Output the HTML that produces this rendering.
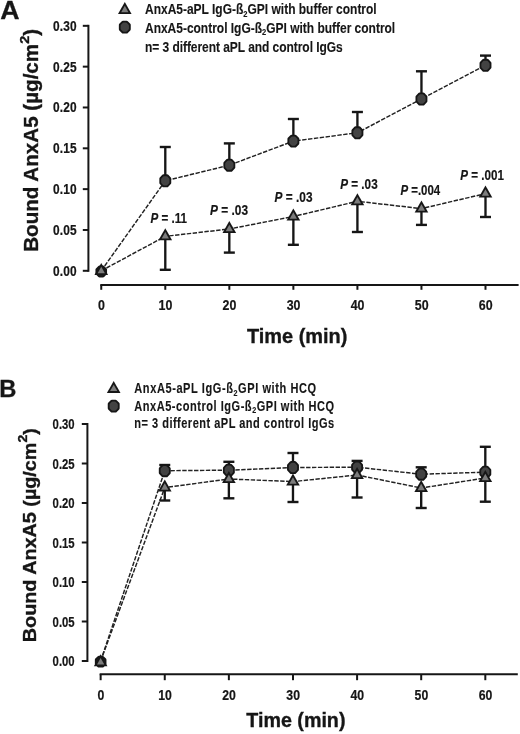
<!DOCTYPE html>
<html><head><meta charset="utf-8"><title>Figure</title>
<style>
html,body{margin:0;padding:0;background:#fff;}
body{width:520px;height:734px;overflow:hidden;font-family:"Liberation Sans",sans-serif;}
svg{display:block;will-change:transform;}
</style></head><body>
<svg width="520" height="734" viewBox="0 0 520 734" font-family="'Liberation Sans', sans-serif" fill="#161616">
<rect width="520" height="734" fill="#fff"/>
<line x1="88.4" y1="24.82" x2="88.4" y2="271.80" stroke="#161616" stroke-width="2"/>
<line x1="82.80" y1="270.80" x2="88.40" y2="270.80" stroke="#161616" stroke-width="2"/>
<text transform="translate(53.0,275.7) scale(0.8600,1)" font-size="13.8" font-weight="bold" letter-spacing="0.194" stroke="#161616" stroke-width="0.22"><tspan>0.00</tspan></text>
<line x1="82.80" y1="229.97" x2="88.40" y2="229.97" stroke="#161616" stroke-width="2"/>
<text transform="translate(53.0,234.87) scale(0.8600,1)" font-size="13.8" font-weight="bold" letter-spacing="0.194" stroke="#161616" stroke-width="0.22"><tspan>0.05</tspan></text>
<line x1="82.80" y1="189.14" x2="88.40" y2="189.14" stroke="#161616" stroke-width="2"/>
<text transform="translate(53.0,194.04) scale(0.8600,1)" font-size="13.8" font-weight="bold" letter-spacing="0.194" stroke="#161616" stroke-width="0.22"><tspan>0.10</tspan></text>
<line x1="82.80" y1="148.31" x2="88.40" y2="148.31" stroke="#161616" stroke-width="2"/>
<text transform="translate(53.0,153.21) scale(0.8600,1)" font-size="13.8" font-weight="bold" letter-spacing="0.194" stroke="#161616" stroke-width="0.22"><tspan>0.15</tspan></text>
<line x1="82.80" y1="107.48" x2="88.40" y2="107.48" stroke="#161616" stroke-width="2"/>
<text transform="translate(53.0,112.38) scale(0.8600,1)" font-size="13.8" font-weight="bold" letter-spacing="0.194" stroke="#161616" stroke-width="0.22"><tspan>0.20</tspan></text>
<line x1="82.80" y1="66.65" x2="88.40" y2="66.65" stroke="#161616" stroke-width="2"/>
<text transform="translate(53.0,71.55) scale(0.8600,1)" font-size="13.8" font-weight="bold" letter-spacing="0.194" stroke="#161616" stroke-width="0.22"><tspan>0.25</tspan></text>
<line x1="82.80" y1="25.82" x2="88.40" y2="25.82" stroke="#161616" stroke-width="2"/>
<text transform="translate(53.0,30.72) scale(0.8600,1)" font-size="13.8" font-weight="bold" letter-spacing="0.194" stroke="#161616" stroke-width="0.22"><tspan>0.30</tspan></text>
<line x1="100.25" y1="285.1" x2="518.6" y2="285.1" stroke="#161616" stroke-width="2"/>
<line x1="101.25" y1="285.1" x2="101.25" y2="289.80" stroke="#161616" stroke-width="2"/>
<text transform="translate(97.99,310.4) scale(0.8400,1)" font-size="14.8" font-weight="bold" stroke="#161616" stroke-width="0.22"><tspan>0</tspan></text>
<line x1="165.29" y1="285.1" x2="165.29" y2="289.80" stroke="#161616" stroke-width="2"/>
<text transform="translate(158.58,310.4) scale(0.8400,1)" font-size="14.8" font-weight="bold" stroke="#161616" stroke-width="0.22"><tspan>10</tspan></text>
<line x1="229.33" y1="285.1" x2="229.33" y2="289.80" stroke="#161616" stroke-width="2"/>
<text transform="translate(222.62,310.4) scale(0.8400,1)" font-size="14.8" font-weight="bold" stroke="#161616" stroke-width="0.22"><tspan>20</tspan></text>
<line x1="293.37" y1="285.1" x2="293.37" y2="289.80" stroke="#161616" stroke-width="2"/>
<text transform="translate(286.66,310.4) scale(0.8400,1)" font-size="14.8" font-weight="bold" stroke="#161616" stroke-width="0.22"><tspan>30</tspan></text>
<line x1="357.41" y1="285.1" x2="357.41" y2="289.80" stroke="#161616" stroke-width="2"/>
<text transform="translate(350.7,310.4) scale(0.8400,1)" font-size="14.8" font-weight="bold" stroke="#161616" stroke-width="0.22"><tspan>40</tspan></text>
<line x1="421.45" y1="285.1" x2="421.45" y2="289.80" stroke="#161616" stroke-width="2"/>
<text transform="translate(414.74,310.4) scale(0.8400,1)" font-size="14.8" font-weight="bold" stroke="#161616" stroke-width="0.22"><tspan>50</tspan></text>
<line x1="485.49" y1="285.1" x2="485.49" y2="289.80" stroke="#161616" stroke-width="2"/>
<text transform="translate(478.78,310.4) scale(0.8400,1)" font-size="14.8" font-weight="bold" stroke="#161616" stroke-width="0.22"><tspan>60</tspan></text>
<line x1="87.4" y1="423.00" x2="87.4" y2="662.00" stroke="#161616" stroke-width="2"/>
<line x1="81.80" y1="661.00" x2="87.40" y2="661.00" stroke="#161616" stroke-width="2"/>
<text transform="translate(52.6,666.2) scale(0.7800,1)" font-size="14.5" font-weight="bold" letter-spacing="-0.005" stroke="#161616" stroke-width="0.22"><tspan>0.00</tspan></text>
<line x1="81.80" y1="621.50" x2="87.40" y2="621.50" stroke="#161616" stroke-width="2"/>
<text transform="translate(52.6,626.7) scale(0.7800,1)" font-size="14.5" font-weight="bold" letter-spacing="-0.005" stroke="#161616" stroke-width="0.22"><tspan>0.05</tspan></text>
<line x1="81.80" y1="582.00" x2="87.40" y2="582.00" stroke="#161616" stroke-width="2"/>
<text transform="translate(52.6,587.2) scale(0.7800,1)" font-size="14.5" font-weight="bold" letter-spacing="-0.005" stroke="#161616" stroke-width="0.22"><tspan>0.10</tspan></text>
<line x1="81.80" y1="542.50" x2="87.40" y2="542.50" stroke="#161616" stroke-width="2"/>
<text transform="translate(52.6,547.7) scale(0.7800,1)" font-size="14.5" font-weight="bold" letter-spacing="-0.005" stroke="#161616" stroke-width="0.22"><tspan>0.15</tspan></text>
<line x1="81.80" y1="503.00" x2="87.40" y2="503.00" stroke="#161616" stroke-width="2"/>
<text transform="translate(52.6,508.2) scale(0.7800,1)" font-size="14.5" font-weight="bold" letter-spacing="-0.005" stroke="#161616" stroke-width="0.22"><tspan>0.20</tspan></text>
<line x1="81.80" y1="463.50" x2="87.40" y2="463.50" stroke="#161616" stroke-width="2"/>
<text transform="translate(52.6,468.7) scale(0.7800,1)" font-size="14.5" font-weight="bold" letter-spacing="-0.005" stroke="#161616" stroke-width="0.22"><tspan>0.25</tspan></text>
<line x1="81.80" y1="424.00" x2="87.40" y2="424.00" stroke="#161616" stroke-width="2"/>
<text transform="translate(52.6,429.2) scale(0.7800,1)" font-size="14.5" font-weight="bold" letter-spacing="-0.005" stroke="#161616" stroke-width="0.22"><tspan>0.30</tspan></text>
<line x1="99.65" y1="674.2" x2="517.8" y2="674.2" stroke="#161616" stroke-width="2"/>
<line x1="100.65" y1="674.2" x2="100.65" y2="680.20" stroke="#161616" stroke-width="2"/>
<text transform="translate(97.44,699.9) scale(0.8400,1)" font-size="14.6" font-weight="bold" stroke="#161616" stroke-width="0.22"><tspan>0</tspan></text>
<line x1="164.76" y1="674.2" x2="164.76" y2="680.20" stroke="#161616" stroke-width="2"/>
<text transform="translate(158.14,699.9) scale(0.8400,1)" font-size="14.6" font-weight="bold" stroke="#161616" stroke-width="0.22"><tspan>10</tspan></text>
<line x1="228.87" y1="674.2" x2="228.87" y2="680.20" stroke="#161616" stroke-width="2"/>
<text transform="translate(222.25,699.9) scale(0.8400,1)" font-size="14.6" font-weight="bold" stroke="#161616" stroke-width="0.22"><tspan>20</tspan></text>
<line x1="292.98" y1="674.2" x2="292.98" y2="680.20" stroke="#161616" stroke-width="2"/>
<text transform="translate(286.36,699.9) scale(0.8400,1)" font-size="14.6" font-weight="bold" stroke="#161616" stroke-width="0.22"><tspan>30</tspan></text>
<line x1="357.09" y1="674.2" x2="357.09" y2="680.20" stroke="#161616" stroke-width="2"/>
<text transform="translate(350.47,699.9) scale(0.8400,1)" font-size="14.6" font-weight="bold" stroke="#161616" stroke-width="0.22"><tspan>40</tspan></text>
<line x1="421.20" y1="674.2" x2="421.20" y2="680.20" stroke="#161616" stroke-width="2"/>
<text transform="translate(414.58,699.9) scale(0.8400,1)" font-size="14.6" font-weight="bold" stroke="#161616" stroke-width="0.22"><tspan>50</tspan></text>
<line x1="485.31" y1="674.2" x2="485.31" y2="680.20" stroke="#161616" stroke-width="2"/>
<text transform="translate(478.69,699.9) scale(0.8400,1)" font-size="14.6" font-weight="bold" stroke="#161616" stroke-width="0.22"><tspan>60</tspan></text>
<polyline points="101.25,270.80 165.29,180.80 229.33,165.20 293.37,141.10 357.41,132.80 421.45,99.00 485.49,65.30" fill="none" stroke="#222" stroke-width="1.45" stroke-dasharray="4.4,1.5"/>
<polyline points="101.25,270.80 165.29,236.30 229.33,229.00 293.37,216.50 357.41,201.30 421.45,208.60 485.49,193.60" fill="none" stroke="#222" stroke-width="1.45" stroke-dasharray="4.4,1.5"/>
<line x1="165.29" y1="180.80" x2="165.29" y2="147.00" stroke="#161616" stroke-width="2.35"/><line x1="159.79" y1="147.00" x2="170.79" y2="147.00" stroke="#161616" stroke-width="2.4"/>
<line x1="165.29" y1="236.30" x2="165.29" y2="269.80" stroke="#161616" stroke-width="2.35"/><line x1="159.79" y1="269.80" x2="170.79" y2="269.80" stroke="#161616" stroke-width="2.4"/>
<line x1="229.33" y1="165.20" x2="229.33" y2="143.40" stroke="#161616" stroke-width="2.35"/><line x1="223.83" y1="143.40" x2="234.83" y2="143.40" stroke="#161616" stroke-width="2.4"/>
<line x1="229.33" y1="229.00" x2="229.33" y2="252.60" stroke="#161616" stroke-width="2.35"/><line x1="223.83" y1="252.60" x2="234.83" y2="252.60" stroke="#161616" stroke-width="2.4"/>
<line x1="293.37" y1="141.10" x2="293.37" y2="119.00" stroke="#161616" stroke-width="2.35"/><line x1="287.87" y1="119.00" x2="298.87" y2="119.00" stroke="#161616" stroke-width="2.4"/>
<line x1="293.37" y1="216.50" x2="293.37" y2="244.80" stroke="#161616" stroke-width="2.35"/><line x1="287.87" y1="244.80" x2="298.87" y2="244.80" stroke="#161616" stroke-width="2.4"/>
<line x1="357.41" y1="132.80" x2="357.41" y2="112.00" stroke="#161616" stroke-width="2.35"/><line x1="351.91" y1="112.00" x2="362.91" y2="112.00" stroke="#161616" stroke-width="2.4"/>
<line x1="357.41" y1="201.30" x2="357.41" y2="232.00" stroke="#161616" stroke-width="2.35"/><line x1="351.91" y1="232.00" x2="362.91" y2="232.00" stroke="#161616" stroke-width="2.4"/>
<line x1="421.45" y1="99.00" x2="421.45" y2="71.30" stroke="#161616" stroke-width="2.35"/><line x1="415.95" y1="71.30" x2="426.95" y2="71.30" stroke="#161616" stroke-width="2.4"/>
<line x1="421.45" y1="208.60" x2="421.45" y2="224.90" stroke="#161616" stroke-width="2.35"/><line x1="415.95" y1="224.90" x2="426.95" y2="224.90" stroke="#161616" stroke-width="2.4"/>
<line x1="485.49" y1="65.30" x2="485.49" y2="55.60" stroke="#161616" stroke-width="2.35"/><line x1="479.99" y1="55.60" x2="490.99" y2="55.60" stroke="#161616" stroke-width="2.4"/>
<line x1="485.49" y1="193.60" x2="485.49" y2="217.00" stroke="#161616" stroke-width="2.35"/><line x1="479.99" y1="217.00" x2="490.99" y2="217.00" stroke="#161616" stroke-width="2.4"/>
<polygon points="99.49,267.20 103.01,267.20 105.45,269.56 105.45,273.44 103.01,275.80 99.49,275.80 97.05,273.44 97.05,269.56" fill="#161616" stroke="#161616" stroke-width="3.2" stroke-linejoin="round"/><polygon points="100.12,268.70 102.38,268.70 103.95,270.24 103.95,272.76 102.38,274.30 100.12,274.30 98.55,272.76 98.55,270.24" fill="#202020" stroke="#202020" stroke-width="2.6" stroke-linejoin="round"/>
<polygon points="163.46,175.95 167.12,175.95 169.64,178.62 169.64,182.98 167.12,185.65 163.46,185.65 160.94,182.98 160.94,178.62" fill="#161616" stroke="#161616" stroke-width="3.2" stroke-linejoin="round"/><polygon points="164.09,177.45 166.49,177.45 168.14,179.29 168.14,182.31 166.49,184.15 164.09,184.15 162.44,182.31 162.44,179.29" fill="#434343" stroke="#434343" stroke-width="2.6" stroke-linejoin="round"/>
<polygon points="227.50,160.35 231.16,160.35 233.68,163.02 233.68,167.38 231.16,170.05 227.50,170.05 224.98,167.38 224.98,163.02" fill="#161616" stroke="#161616" stroke-width="3.2" stroke-linejoin="round"/><polygon points="228.13,161.85 230.53,161.85 232.18,163.69 232.18,166.71 230.53,168.55 228.13,168.55 226.48,166.71 226.48,163.69" fill="#434343" stroke="#434343" stroke-width="2.6" stroke-linejoin="round"/>
<polygon points="291.54,136.25 295.20,136.25 297.72,138.92 297.72,143.28 295.20,145.95 291.54,145.95 289.02,143.28 289.02,138.92" fill="#161616" stroke="#161616" stroke-width="3.2" stroke-linejoin="round"/><polygon points="292.17,137.75 294.57,137.75 296.22,139.59 296.22,142.61 294.57,144.45 292.17,144.45 290.52,142.61 290.52,139.59" fill="#434343" stroke="#434343" stroke-width="2.6" stroke-linejoin="round"/>
<polygon points="355.58,127.95 359.24,127.95 361.76,130.62 361.76,134.98 359.24,137.65 355.58,137.65 353.06,134.98 353.06,130.62" fill="#161616" stroke="#161616" stroke-width="3.2" stroke-linejoin="round"/><polygon points="356.21,129.45 358.61,129.45 360.26,131.29 360.26,134.31 358.61,136.15 356.21,136.15 354.56,134.31 354.56,131.29" fill="#434343" stroke="#434343" stroke-width="2.6" stroke-linejoin="round"/>
<polygon points="419.62,94.15 423.28,94.15 425.80,96.82 425.80,101.18 423.28,103.85 419.62,103.85 417.10,101.18 417.10,96.82" fill="#161616" stroke="#161616" stroke-width="3.2" stroke-linejoin="round"/><polygon points="420.25,95.65 422.65,95.65 424.30,97.49 424.30,100.51 422.65,102.35 420.25,102.35 418.60,100.51 418.60,97.49" fill="#434343" stroke="#434343" stroke-width="2.6" stroke-linejoin="round"/>
<polygon points="483.66,60.45 487.32,60.45 489.84,63.12 489.84,67.48 487.32,70.15 483.66,70.15 481.14,67.48 481.14,63.12" fill="#161616" stroke="#161616" stroke-width="3.2" stroke-linejoin="round"/><polygon points="484.29,61.95 486.69,61.95 488.34,63.79 488.34,66.81 486.69,68.65 484.29,68.65 482.64,66.81 482.64,63.79" fill="#434343" stroke="#434343" stroke-width="2.6" stroke-linejoin="round"/>
<polygon points="101.25,263.10 94.45,275.10 108.05,275.10" fill="#161616"/><polygon points="101.25,266.85 97.62,273.25 104.88,273.25" fill="#7c7c7c"/>
<polygon points="165.29,228.30 158.49,240.30 172.09,240.30" fill="#161616"/><polygon points="165.29,232.05 161.66,238.45 168.92,238.45" fill="#7c7c7c"/>
<polygon points="229.33,221.00 222.53,233.00 236.13,233.00" fill="#161616"/><polygon points="229.33,224.75 225.70,231.15 232.96,231.15" fill="#7c7c7c"/>
<polygon points="293.37,208.50 286.57,220.50 300.17,220.50" fill="#161616"/><polygon points="293.37,212.25 289.74,218.65 297.00,218.65" fill="#7c7c7c"/>
<polygon points="357.41,193.30 350.61,205.30 364.21,205.30" fill="#161616"/><polygon points="357.41,197.05 353.78,203.45 361.04,203.45" fill="#7c7c7c"/>
<polygon points="421.45,200.60 414.65,212.60 428.25,212.60" fill="#161616"/><polygon points="421.45,204.35 417.82,210.75 425.08,210.75" fill="#7c7c7c"/>
<polygon points="485.49,185.60 478.69,197.60 492.29,197.60" fill="#161616"/><polygon points="485.49,189.35 481.86,195.75 489.12,195.75" fill="#7c7c7c"/>
<polyline points="100.65,661.00 164.76,470.70 228.87,470.20 292.98,467.50 357.09,467.20 421.20,474.20 485.31,472.20" fill="none" stroke="#222" stroke-width="1.45" stroke-dasharray="4.4,1.5"/>
<polyline points="100.65,661.00 164.76,487.60 228.87,479.00 292.98,481.60 357.09,475.00 421.20,488.00 485.31,478.00" fill="none" stroke="#222" stroke-width="1.45" stroke-dasharray="4.4,1.5"/>
<line x1="164.76" y1="470.70" x2="164.76" y2="465.00" stroke="#161616" stroke-width="2.35"/><line x1="159.26" y1="465.00" x2="170.26" y2="465.00" stroke="#161616" stroke-width="2.4"/>
<line x1="164.76" y1="487.60" x2="164.76" y2="500.50" stroke="#161616" stroke-width="2.35"/><line x1="159.26" y1="500.50" x2="170.26" y2="500.50" stroke="#161616" stroke-width="2.4"/>
<line x1="228.87" y1="470.20" x2="228.87" y2="461.80" stroke="#161616" stroke-width="2.35"/><line x1="223.37" y1="461.80" x2="234.37" y2="461.80" stroke="#161616" stroke-width="2.4"/>
<line x1="228.87" y1="479.00" x2="228.87" y2="498.30" stroke="#161616" stroke-width="2.35"/><line x1="223.37" y1="498.30" x2="234.37" y2="498.30" stroke="#161616" stroke-width="2.4"/>
<line x1="292.98" y1="467.50" x2="292.98" y2="453.00" stroke="#161616" stroke-width="2.35"/><line x1="287.48" y1="453.00" x2="298.48" y2="453.00" stroke="#161616" stroke-width="2.4"/>
<line x1="292.98" y1="481.60" x2="292.98" y2="502.00" stroke="#161616" stroke-width="2.35"/><line x1="287.48" y1="502.00" x2="298.48" y2="502.00" stroke="#161616" stroke-width="2.4"/>
<line x1="357.09" y1="467.20" x2="357.09" y2="460.90" stroke="#161616" stroke-width="2.35"/><line x1="351.59" y1="460.90" x2="362.59" y2="460.90" stroke="#161616" stroke-width="2.4"/>
<line x1="357.09" y1="475.00" x2="357.09" y2="497.50" stroke="#161616" stroke-width="2.35"/><line x1="351.59" y1="497.50" x2="362.59" y2="497.50" stroke="#161616" stroke-width="2.4"/>
<line x1="421.20" y1="474.20" x2="421.20" y2="467.30" stroke="#161616" stroke-width="2.35"/><line x1="415.70" y1="467.30" x2="426.70" y2="467.30" stroke="#161616" stroke-width="2.4"/>
<line x1="421.20" y1="488.00" x2="421.20" y2="508.00" stroke="#161616" stroke-width="2.35"/><line x1="415.70" y1="508.00" x2="426.70" y2="508.00" stroke="#161616" stroke-width="2.4"/>
<line x1="485.31" y1="472.20" x2="485.31" y2="446.80" stroke="#161616" stroke-width="2.35"/><line x1="479.81" y1="446.80" x2="490.81" y2="446.80" stroke="#161616" stroke-width="2.4"/>
<line x1="485.31" y1="478.00" x2="485.31" y2="501.70" stroke="#161616" stroke-width="2.35"/><line x1="479.81" y1="501.70" x2="490.81" y2="501.70" stroke="#161616" stroke-width="2.4"/>
<polygon points="98.89,657.40 102.41,657.40 104.85,659.77 104.85,663.63 102.41,666.00 98.89,666.00 96.45,663.63 96.45,659.77" fill="#161616" stroke="#161616" stroke-width="3.2" stroke-linejoin="round"/><polygon points="99.52,658.90 101.78,658.90 103.35,660.44 103.35,662.96 101.78,664.50 99.52,664.50 97.95,662.96 97.95,660.44" fill="#202020" stroke="#202020" stroke-width="2.6" stroke-linejoin="round"/>
<polygon points="162.93,465.85 166.59,465.85 169.11,468.52 169.11,472.88 166.59,475.55 162.93,475.55 160.41,472.88 160.41,468.52" fill="#161616" stroke="#161616" stroke-width="3.2" stroke-linejoin="round"/><polygon points="163.56,467.35 165.96,467.35 167.61,469.19 167.61,472.21 165.96,474.05 163.56,474.05 161.91,472.21 161.91,469.19" fill="#434343" stroke="#434343" stroke-width="2.6" stroke-linejoin="round"/>
<polygon points="227.04,465.35 230.70,465.35 233.22,468.02 233.22,472.38 230.70,475.05 227.04,475.05 224.52,472.38 224.52,468.02" fill="#161616" stroke="#161616" stroke-width="3.2" stroke-linejoin="round"/><polygon points="227.67,466.85 230.07,466.85 231.72,468.69 231.72,471.71 230.07,473.55 227.67,473.55 226.02,471.71 226.02,468.69" fill="#434343" stroke="#434343" stroke-width="2.6" stroke-linejoin="round"/>
<polygon points="291.15,462.65 294.81,462.65 297.33,465.32 297.33,469.68 294.81,472.35 291.15,472.35 288.63,469.68 288.63,465.32" fill="#161616" stroke="#161616" stroke-width="3.2" stroke-linejoin="round"/><polygon points="291.78,464.15 294.18,464.15 295.83,465.99 295.83,469.01 294.18,470.85 291.78,470.85 290.13,469.01 290.13,465.99" fill="#434343" stroke="#434343" stroke-width="2.6" stroke-linejoin="round"/>
<polygon points="355.26,462.35 358.92,462.35 361.44,465.02 361.44,469.38 358.92,472.05 355.26,472.05 352.74,469.38 352.74,465.02" fill="#161616" stroke="#161616" stroke-width="3.2" stroke-linejoin="round"/><polygon points="355.89,463.85 358.29,463.85 359.94,465.69 359.94,468.71 358.29,470.55 355.89,470.55 354.24,468.71 354.24,465.69" fill="#434343" stroke="#434343" stroke-width="2.6" stroke-linejoin="round"/>
<polygon points="419.37,469.35 423.03,469.35 425.55,472.02 425.55,476.38 423.03,479.05 419.37,479.05 416.85,476.38 416.85,472.02" fill="#161616" stroke="#161616" stroke-width="3.2" stroke-linejoin="round"/><polygon points="420.00,470.85 422.40,470.85 424.05,472.69 424.05,475.71 422.40,477.55 420.00,477.55 418.35,475.71 418.35,472.69" fill="#434343" stroke="#434343" stroke-width="2.6" stroke-linejoin="round"/>
<polygon points="483.48,467.35 487.14,467.35 489.66,470.02 489.66,474.38 487.14,477.05 483.48,477.05 480.96,474.38 480.96,470.02" fill="#161616" stroke="#161616" stroke-width="3.2" stroke-linejoin="round"/><polygon points="484.11,468.85 486.51,468.85 488.16,470.69 488.16,473.71 486.51,475.55 484.11,475.55 482.46,473.71 482.46,470.69" fill="#434343" stroke="#434343" stroke-width="2.6" stroke-linejoin="round"/>
<polygon points="100.65,654.30 93.85,666.30 107.45,666.30" fill="#161616"/><polygon points="100.65,658.05 97.02,664.45 104.28,664.45" fill="#7c7c7c"/>
<polygon points="164.76,479.60 157.96,491.60 171.56,491.60" fill="#161616"/><polygon points="164.76,483.35 161.13,489.75 168.39,489.75" fill="#7c7c7c"/>
<polygon points="228.87,471.00 222.07,483.00 235.67,483.00" fill="#161616"/><polygon points="228.87,474.75 225.24,481.15 232.50,481.15" fill="#7c7c7c"/>
<polygon points="292.98,473.60 286.18,485.60 299.78,485.60" fill="#161616"/><polygon points="292.98,477.35 289.35,483.75 296.61,483.75" fill="#7c7c7c"/>
<polygon points="357.09,467.00 350.29,479.00 363.89,479.00" fill="#161616"/><polygon points="357.09,470.75 353.46,477.15 360.72,477.15" fill="#7c7c7c"/>
<polygon points="421.20,480.00 414.40,492.00 428.00,492.00" fill="#161616"/><polygon points="421.20,483.75 417.57,490.15 424.83,490.15" fill="#7c7c7c"/>
<polygon points="485.31,470.00 478.51,482.00 492.11,482.00" fill="#161616"/><polygon points="485.31,473.75 481.68,480.15 488.94,480.15" fill="#7c7c7c"/>
<text transform="translate(0.3,19.4) scale(1.0600,1)" font-size="25.2" font-weight="bold" stroke="#161616" stroke-width="0.3"><tspan>A</tspan></text>
<text transform="translate(-0.7,397.3) scale(0.9700,1)" font-size="24.5" font-weight="bold" stroke="#161616" stroke-width="0.3"><tspan>B</tspan></text>
<polygon points="124.80,2.10 118.00,14.10 131.60,14.10" fill="#161616"/><polygon points="124.80,5.85 121.17,12.25 128.43,12.25" fill="#7c7c7c"/>
<polygon points="122.97,22.25 126.63,22.25 129.15,24.92 129.15,29.28 126.63,31.95 122.97,31.95 120.45,29.28 120.45,24.92" fill="#161616" stroke="#161616" stroke-width="3.2" stroke-linejoin="round"/><polygon points="123.60,23.75 126.00,23.75 127.65,25.59 127.65,28.61 126.00,30.45 123.60,30.45 121.95,28.61 121.95,25.59" fill="#434343" stroke="#434343" stroke-width="2.6" stroke-linejoin="round"/>
<text transform="translate(145,14.3) scale(0.8400,1)" font-size="14.3" font-weight="bold" letter-spacing="-0.007" stroke="#161616" stroke-width="0.12"><tspan>AnxA5-aPL IgG-ß</tspan><tspan font-size="9" dy="2.6">2</tspan><tspan dy="-2.6">GPI with buffer control</tspan></text>
<text transform="translate(145,32.5) scale(0.8400,1)" font-size="14.3" font-weight="bold" letter-spacing="-0.017" stroke="#161616" stroke-width="0.12"><tspan>AnxA5-control IgG-ß</tspan><tspan font-size="9" dy="2.6">2</tspan><tspan dy="-2.6">GPI with buffer control</tspan></text>
<text transform="translate(145,51.6) scale(0.8400,1)" font-size="14.3" font-weight="bold" letter-spacing="-0.059" stroke="#161616" stroke-width="0.12"><tspan>n= 3 different aPL and control IgGs</tspan></text>
<polygon points="113.70,380.90 106.90,392.90 120.50,392.90" fill="#161616"/><polygon points="113.70,384.65 110.07,391.05 117.33,391.05" fill="#7c7c7c"/>
<polygon points="111.87,401.25 115.53,401.25 118.05,403.92 118.05,408.28 115.53,410.95 111.87,410.95 109.35,408.28 109.35,403.92" fill="#161616" stroke="#161616" stroke-width="3.2" stroke-linejoin="round"/><polygon points="112.50,402.75 114.90,402.75 116.55,404.59 116.55,407.61 114.90,409.45 112.50,409.45 110.85,407.61 110.85,404.59" fill="#434343" stroke="#434343" stroke-width="2.6" stroke-linejoin="round"/>
<text transform="translate(134.3,393.3) scale(0.8000,1)" font-size="13.8" font-weight="bold" letter-spacing="0.725" stroke="#161616" stroke-width="0.12"><tspan>AnxA5-aPL IgG-ß</tspan><tspan font-size="9" dy="2.6">2</tspan><tspan dy="-2.6">GPI with HCQ</tspan></text>
<text transform="translate(134.3,410.8) scale(0.8000,1)" font-size="13.8" font-weight="bold" letter-spacing="0.657" stroke="#161616" stroke-width="0.12"><tspan>AnxA5-control IgG-ß</tspan><tspan font-size="9" dy="2.6">2</tspan><tspan dy="-2.6">GPI with HCQ</tspan></text>
<text transform="translate(134.3,428.3) scale(0.8000,1)" font-size="13.8" font-weight="bold" letter-spacing="0.606" stroke="#161616" stroke-width="0.12"><tspan>n= 3 different aPL and control IgGs</tspan></text>
<text transform="translate(150.4,223.39999999999998) scale(0.7925,1)" font-size="14.7" font-weight="bold" stroke="#161616" stroke-width="0.2"><tspan font-style="italic">P</tspan><tspan> = .11</tspan></text>
<text transform="translate(210.1,214.6) scale(0.8086,1)" font-size="14.7" font-weight="bold" stroke="#161616" stroke-width="0.2"><tspan font-style="italic">P</tspan><tspan> = .03</tspan></text>
<text transform="translate(274.6,201.5) scale(0.8065,1)" font-size="14.7" font-weight="bold" stroke="#161616" stroke-width="0.2"><tspan font-style="italic">P</tspan><tspan> = .03</tspan></text>
<text transform="translate(340.2,188.7) scale(0.7980,1)" font-size="14.7" font-weight="bold" stroke="#161616" stroke-width="0.2"><tspan font-style="italic">P</tspan><tspan> = .03</tspan></text>
<text transform="translate(400.4,194.6) scale(0.7791,1)" font-size="14.7" font-weight="bold" stroke="#161616" stroke-width="0.2"><tspan font-style="italic">P</tspan><tspan> =.004</tspan></text>
<text transform="translate(460.3,180.0) scale(0.7921,1)" font-size="14.7" font-weight="bold" stroke="#161616" stroke-width="0.2"><tspan font-style="italic">P</tspan><tspan> = .001</tspan></text>
<text transform="translate(247.0,343.3) scale(0.9500,1)" font-size="21" font-weight="bold" stroke="#161616" stroke-width="0.35"><tspan>Time (min)</tspan></text>
<text transform="translate(246.3,726.5) scale(0.9700,1)" font-size="20.3" font-weight="bold" stroke="#161616" stroke-width="0.35"><tspan>Time (min)</tspan></text>
<text transform="translate(37.8,251.8) rotate(-90) scale(1.0573,1)" font-size="19.5" font-weight="bold" stroke="#161616" stroke-width="0.35"><tspan>Bound AnxA5 (µg/cm</tspan><tspan font-size="13.6" dy="-9.3">2</tspan><tspan dy="9.3">)</tspan></text>
<text transform="translate(36.0,642.2) rotate(-90) scale(1.1050,1)" font-size="17.9" font-weight="bold" stroke="#161616" stroke-width="0.35"><tspan>Bound AnxA5 (µg/cm</tspan><tspan font-size="12.6" dy="-8.6">2</tspan><tspan dy="8.6">)</tspan></text>
</svg>
</body></html>
